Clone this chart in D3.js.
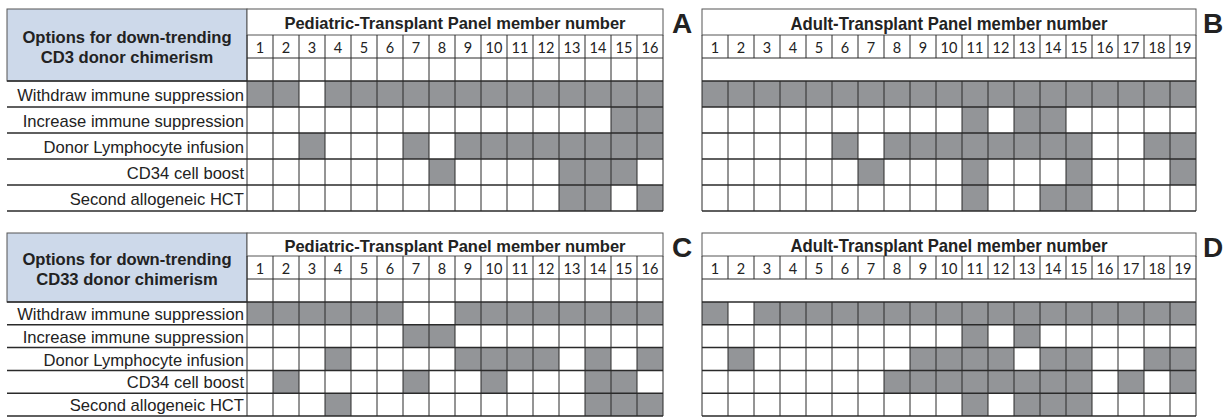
<!DOCTYPE html>
<html><head><meta charset="utf-8">
<script src="https://cdn.jsdelivr.net/npm/d3@7"></script>
<style>
body{margin:0;background:#fff;}
svg{display:block;}
</style></head>
<body>
<svg id="chart" width="1227" height="418"></svg>
<script>
// ---- data ----
const options = ["Withdraw immune suppression","Increase immune suppression","Donor Lymphocyte infusion","CD34 cell boost","Second allogeneic HCT"];
const pediatricMembers = ["1","2","3","4","5","6","7","8","9","10","11","12","13","14","15","16"];
const adultMembers = ["1","2","3","4","5","6","7","8","9","10","11","12","13","14","15","16","17","18","19"];
const headerCD3 = ["Options for down-trending","CD3 donor chimerism"];
const headerCD33 = ["Options for down-trending","CD33 donor chimerism"];
const pediatricTitle = "Pediatric-Transplant Panel member number";
const adultTitle = "Adult-Transplant Panel member number";
const panelLetters = ["A","B","C","D"];

// 1 = option chosen by panel member (gray cell)
const pedCD3 = [
  [1,1,0,1,1,1,1,1,1,1,1,1,1,1,1,1],
  [0,0,0,0,0,0,0,0,0,0,0,0,0,0,1,1],
  [0,0,1,0,0,0,1,0,1,1,1,1,1,1,1,1],
  [0,0,0,0,0,0,0,1,0,0,0,0,1,1,1,0],
  [0,0,0,0,0,0,0,0,0,0,0,0,1,1,0,1]
];
const adultCD3 = [
  [1,1,1,1,1,1,1,1,1,1,1,1,1,1,1,1,1,1,1],
  [0,0,0,0,0,0,0,0,0,0,1,0,1,1,0,0,0,0,0],
  [0,0,0,0,0,1,0,1,1,1,1,1,1,1,1,0,0,1,1],
  [0,0,0,0,0,0,1,0,0,0,1,0,0,0,1,0,0,0,1],
  [0,0,0,0,0,0,0,0,0,0,1,0,0,1,1,0,0,0,0]
];
const pedCD33 = [
  [1,1,1,1,1,1,0,0,1,1,1,1,1,1,1,1],
  [0,0,0,0,0,0,1,1,0,0,0,0,0,0,0,0],
  [0,0,0,1,0,0,0,0,1,1,1,1,0,1,0,1],
  [0,1,0,0,0,0,1,0,0,1,0,0,0,1,1,0],
  [0,0,0,1,0,0,0,0,0,0,0,0,0,1,1,1]
];
const adultCD33 = [
  [1,0,1,1,1,1,1,1,1,1,1,1,1,1,1,1,1,1,1],
  [0,0,0,0,0,0,0,0,0,0,1,0,1,0,0,0,0,0,0],
  [0,1,0,0,0,0,0,0,1,1,1,1,0,1,1,0,0,1,1],
  [0,0,0,0,0,0,0,1,1,1,1,1,1,1,1,0,1,0,1],
  [0,0,0,0,0,0,0,0,0,0,1,0,1,1,1,0,0,0,0]
];

// ---- styles ----
const FILL = "#939598", BLUE = "#cdd9ea", LINE = "#2a2a2a", EDGE = "#555";
const SANS = "'Liberation Sans', Arial, sans-serif";
const svg = d3.select("#chart");

function drawPanel(cfg){
  const g = svg.append("g");
  const {x0, x1, yTop, yTitle, yNum, yBlank, yBottom, members, data, title, condensed, mergedBlank} = cfg;
  const xs = d3.scaleBand().domain(members).range([x0, x1]);
  const ys = d3.scaleBand().domain(options).range([yBlank, yBottom]);

  // label column
  if (cfg.header){
    const lx0 = cfg.labelLeft;
    g.append("rect").attr("x", lx0).attr("y", yTop).attr("width", x0 - lx0).attr("height", yBlank - yTop)
      .attr("fill", BLUE).attr("stroke", EDGE).attr("stroke-width", 1);
    const cy = (yTop + yBlank) / 2;
    g.selectAll("text.hdr").data(cfg.header).join("text")
      .attr("x", (lx0 + x0) / 2).attr("y", (d,i) => cy - 8 + i * 20)
      .attr("text-anchor", "middle").attr("dominant-baseline", "central")
      .style("font-family", SANS).attr("font-weight", "bold")
      .attr("font-size", 16.6).attr("fill", "#222").text(d => d);
    g.selectAll("text.opt").data(options).join("text")
      .attr("x", x0 - 3).attr("y", d => ys(d) + ys.bandwidth() / 2 + 1)
      .attr("text-anchor", "end").attr("dominant-baseline", "central")
      .style("font-family", SANS)
      .attr("font-size", 16.6).attr("fill", "#222").text(d => d);
    g.selectAll("line.lrow").data(options.concat(["__end"])).join("line")
      .attr("x1", lx0).attr("x2", x0)
      .attr("y1", (d,i) => i < options.length ? ys(d) : yBottom)
      .attr("y2", (d,i) => i < options.length ? ys(d) : yBottom)
      .attr("stroke", LINE).attr("stroke-width", 1.5);
  }

  // cells
  const cells = [];
  data.forEach((row, ri) => row.forEach((v, ci) => cells.push({r: options[ri], c: members[ci], v})));
  g.selectAll("rect.cell").data(cells).join("rect")
    .attr("x", d => xs(d.c)).attr("y", d => ys(d.r))
    .attr("width", xs.bandwidth()).attr("height", ys.bandwidth())
    .attr("fill", d => d.v ? FILL : "#fff");

  // title row
  g.append("rect").attr("x", x0).attr("y", yTop).attr("width", x1 - x0).attr("height", yTitle - yTop)
    .attr("fill", "#fff").attr("stroke", EDGE).attr("stroke-width", 1);
  const t = g.append("text").attr("x", (x0 + x1) / 2).attr("y", (yTop + yTitle) / 2 + 1)
    .attr("text-anchor", "middle").attr("dominant-baseline", "central")
    .style("font-family", SANS)
    .attr("font-weight", "bold").attr("font-size", condensed ? 19 : 16.5).attr("fill", "#222").text(title);
  if (condensed) t.attr("textLength", 317).attr("lengthAdjust", "spacingAndGlyphs");

  // numbers
  g.selectAll("text.num").data(members).join("text")
    .attr("x", d => xs(d) + xs.bandwidth() / 2).attr("y", (yTitle + yNum) / 2 + 1)
    .attr("text-anchor", "middle").attr("dominant-baseline", "central")
    .style("font-family", "Lato, Carlito, sans-serif").attr("font-size", 14.5).attr("fill", "#222").text(d => d);

  // vertical lines
  const segs = mergedBlank ? [[yTitle, yNum], [yBlank, yBottom]] : [[yTitle, yBottom]];
  const vlines = [];
  members.forEach((m, i) => { if (i > 0) segs.forEach(s => vlines.push({x: xs(m), y1: s[0], y2: s[1]})); });
  vlines.push({x: x0, y1: yTitle, y2: yBottom});
  vlines.push({x: x1, y1: yTitle, y2: yBottom});
  g.selectAll("line.v").data(vlines).join("line")
    .attr("x1", d => d.x).attr("x2", d => d.x).attr("y1", d => d.y1).attr("y2", d => d.y2)
    .attr("stroke", LINE).attr("stroke-width", 1);

  // horizontal lines
  const hl = [yNum].concat(options.map(o => ys(o))).concat([yBottom]);
  g.selectAll("line.h").data(hl).join("line")
    .attr("x1", x0).attr("x2", x1).attr("y1", d => d).attr("y2", d => d)
    .attr("stroke", LINE).attr("stroke-width", (d,i) => i === 0 ? 1 : 1.5);

  // panel letter
  g.append("text").attr("x", cfg.letterX).attr("y", cfg.letterY)
    .attr("text-anchor", "middle")
    .style("font-family", SANS).attr("font-weight", "bold")
    .attr("font-size", 28).attr("fill", "#222").text(cfg.letter);
}

const topRow = {yTop: 9, yTitle: 35, yNum: 58, yBlank: 81, yBottom: 211};
const botRow = {yTop: 233, yTitle: 256, yNum: 279, yBlank: 302, yBottom: 416};
const pedCfg = {x0: 247, x1: 663, members: pediatricMembers, title: pediatricTitle, condensed: false, mergedBlank: false, labelLeft: 7, letterX: 682};
const aduCfg = {x0: 702, x1: 1196, members: adultMembers, title: adultTitle, condensed: true, mergedBlank: true, letterX: 1213};

drawPanel(Object.assign({}, topRow, pedCfg, {data: pedCD3, header: headerCD3, letter: panelLetters[0], letterY: 33}));
drawPanel(Object.assign({}, topRow, aduCfg, {data: adultCD3, letter: panelLetters[1], letterY: 33}));
drawPanel(Object.assign({}, botRow, pedCfg, {data: pedCD33, header: headerCD33, letter: panelLetters[2], letterY: 257}));
drawPanel(Object.assign({}, botRow, aduCfg, {data: adultCD33, letter: panelLetters[3], letterY: 257}));
</script>
</body></html>
